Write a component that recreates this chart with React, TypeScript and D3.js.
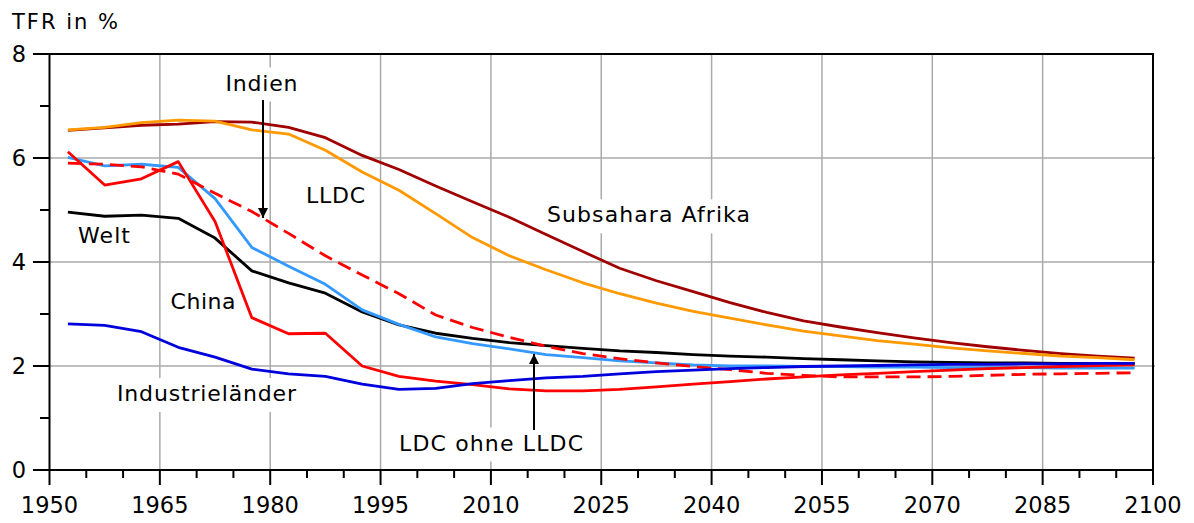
import React from "react";
import * as d3 from "d3";

const years = [1952.5, 1957.5, 1962.5, 1967.5, 1972.5, 1977.5, 1982.5, 1987.5, 1992.5, 1997.5,
  2002.5, 2007.5, 2012.5, 2017.5, 2022.5, 2027.5, 2032.5, 2037.5, 2042.5, 2047.5,
  2052.5, 2057.5, 2062.5, 2067.5, 2072.5, 2077.5, 2082.5, 2087.5, 2092.5, 2097.5];

const subsahara = [6.53, 6.58, 6.63, 6.65, 6.70, 6.69, 6.59, 6.39, 6.05, 5.78,
  5.46, 5.16, 4.86, 4.53, 4.20, 3.88, 3.64, 3.43, 3.22, 3.03,
  2.87, 2.75, 2.64, 2.54, 2.45, 2.37, 2.30, 2.24, 2.19, 2.15];
const lldc = [6.54, 6.59, 6.68, 6.73, 6.71, 6.54, 6.46, 6.15, 5.73, 5.38,
  4.93, 4.47, 4.12, 3.85, 3.60, 3.39, 3.21, 3.05, 2.92, 2.79,
  2.67, 2.58, 2.49, 2.42, 2.35, 2.29, 2.24, 2.19, 2.16, 2.12];
const indien = [5.90, 5.88, 5.83, 5.69, 5.32, 4.97, 4.55, 4.12, 3.75, 3.39,
  2.98, 2.74, 2.55, 2.38, 2.24, 2.14, 2.06, 1.99, 1.93, 1.86,
  1.82, 1.79, 1.79, 1.79, 1.80, 1.82, 1.84, 1.85, 1.86, 1.87];
const china = [6.12, 5.48, 5.60, 5.93, 4.78, 2.93, 2.62, 2.63, 2.00, 1.80,
  1.71, 1.64, 1.56, 1.52, 1.52, 1.55, 1.60, 1.65, 1.70, 1.75,
  1.79, 1.83, 1.86, 1.89, 1.92, 1.95, 1.97, 1.99, 2.01, 2.02];
const welt = [4.96, 4.88, 4.90, 4.84, 4.46, 3.83, 3.60, 3.40, 3.04, 2.79,
  2.63, 2.53, 2.45, 2.39, 2.34, 2.29, 2.26, 2.22, 2.19, 2.17,
  2.14, 2.12, 2.10, 2.08, 2.07, 2.06, 2.06, 2.05, 2.05, 2.05];
const ldcOhneLldc = [6.01, 5.85, 5.88, 5.82, 5.22, 4.28, 3.92, 3.57, 3.08, 2.80,
  2.56, 2.43, 2.33, 2.22, 2.16, 2.10, 2.06, 2.02, 2.00, 2.00,
  1.99, 1.99, 1.98, 1.98, 1.97, 1.97, 1.97, 1.96, 1.96, 1.96];
const industrie = [2.81, 2.78, 2.66, 2.36, 2.17, 1.94, 1.85, 1.80, 1.65, 1.55,
  1.57, 1.66, 1.72, 1.77, 1.80, 1.85, 1.89, 1.92, 1.95, 1.97,
  1.99, 2.00, 2.01, 2.02, 2.03, 2.03, 2.04, 2.04, 2.05, 2.05];

const xMajorTicks = [1950, 1965, 1980, 1995, 2010, 2025, 2040, 2055, 2070, 2085, 2100];
const yMajorTicks = [0, 2, 4, 6, 8];
const yMinorTicks = [1, 3, 5, 7];

const series = [
  { name: "Subsahara Afrika", values: subsahara, color: "#a00000", dash: null },
  { name: "LLDC", values: lldc, color: "#ff9900", dash: null },
  { name: "Welt", values: welt, color: "#000000", dash: null },
  { name: "LDC ohne LLDC", values: ldcOhneLldc, color: "#3399ff", dash: null },
  { name: "Indien", values: indien, color: "#ff0000", dash: "14,7" },
  { name: "China", values: china, color: "#ff0000", dash: null },
  { name: "Industrieländer", values: industrie, color: "#0000dd", dash: null },
];

const labels = [
  { text: "Indien", x: 225.5, y: 90.5, w: 72 },
  { text: "LLDC", x: 306, y: 202.5, w: 59 },
  { text: "Subsahara Afrika", x: 547, y: 222.3, w: 203 },
  { text: "Welt", x: 78, y: 243.3, w: 52 },
  { text: "China", x: 170.5, y: 309.3, w: 65 },
  { text: "Industrieländer", x: 117, y: 401, w: 179 },
  { text: "LDC ohne LLDC", x: 399, y: 450.5, w: 184 },
];

const W = 1194, H = 523;
const x = d3.scaleLinear().domain([1950, 2100]).range([49.5, 1153]);
const y = d3.scaleLinear().domain([0, 8]).range([470, 54]);
const FONT = "'DejaVu Sans', Verdana, sans-serif";

export default function App() {
  const line = d3.line<number>().x((_, i) => x(years[i])).y((d) => y(d));
  const xMinor = d3.range(1955, 2100, 5).filter((v) => (v - 1950) % 15 !== 0);
  return (
    <svg width={W} height={H} style={{ position: "absolute", left: 0, top: 0, background: "#fff" }}
      fontFamily={FONT}>
      <defs>
        <marker id="ah" viewBox="0 0 10 10" refX="10" refY="5" markerWidth="10" markerHeight="10"
          markerUnits="userSpaceOnUse" orient="auto">
          <path d="M0,0 L10,5 L0,10 z" fill="#000" />
        </marker>
      </defs>
      {xMajorTicks.slice(1, -1).map((t) => (
        <line key={"gx" + t} x1={x(t)} x2={x(t)} y1={y(8)} y2={y(0)} stroke="#aaa" strokeWidth={1.5} />
      ))}
      {yMajorTicks.slice(1, -1).map((t) => (
        <line key={"gy" + t} x1={x(1950)} x2={x(2100) + 2} y1={y(t)} y2={y(t)} stroke="#aaa" strokeWidth={1.5} />
      ))}
      {labels.map((l) => (
        <rect key={"bg" + l.text} x={l.x - 4} y={l.y - 23} width={l.w + 8} height={34} fill="#fff" />
      ))}
      {series.map((s) => (
        <path key={s.name} d={line(s.values) || ""} fill="none" stroke={s.color} strokeWidth={2.8}
          strokeDasharray={s.dash || undefined} strokeLinejoin="round" />
      ))}
      <rect x={x(1950)} y={y(8)} width={x(2100) - x(1950)} height={y(0) - y(8)} fill="none" stroke="#000" strokeWidth={2} />
      {xMajorTicks.map((t) => (
        <g key={"xt" + t}>
          <line x1={x(t)} x2={x(t)} y1={y(0)} y2={y(0) + 15} stroke="#000" strokeWidth={2} />
          <text x={x(t)} y={513} textAnchor="middle" fontSize={22.5}>{t}</text>
        </g>
      ))}
      {xMinor.map((t) => (
        <line key={"xm" + t} x1={x(t)} x2={x(t)} y1={y(0)} y2={y(0) + 8} stroke="#000" strokeWidth={2} />
      ))}
      {yMajorTicks.map((t) => (
        <g key={"yt" + t}>
          <line x1={33} x2={x(1950)} y1={y(t)} y2={y(t)} stroke="#000" strokeWidth={2} />
          <text x={26} y={y(t) + 8} textAnchor="end" fontSize={22.5}>{t}</text>
        </g>
      ))}
      {yMinorTicks.map((t) => (
        <line key={"ym" + t} x1={40} x2={x(1950)} y1={y(t)} y2={y(t)} stroke="#000" strokeWidth={2} />
      ))}
      <text x={12} y={28.5} fontSize={21} textLength={106} lengthAdjust="spacing">TFR in %</text>
      {labels.map((l) => (
        <text key={"lb" + l.text} x={l.x} y={l.y} fontSize={22}
          textLength={l.w} lengthAdjust="spacing">{l.text}</text>
      ))}
      <line x1={263} x2={263} y1={100} y2={218} stroke="#000" strokeWidth={2} markerEnd="url(#ah)" />
      <line x1={534} x2={534} y1={430} y2={354} stroke="#000" strokeWidth={2} markerEnd="url(#ah)" />
    </svg>
  );
}
